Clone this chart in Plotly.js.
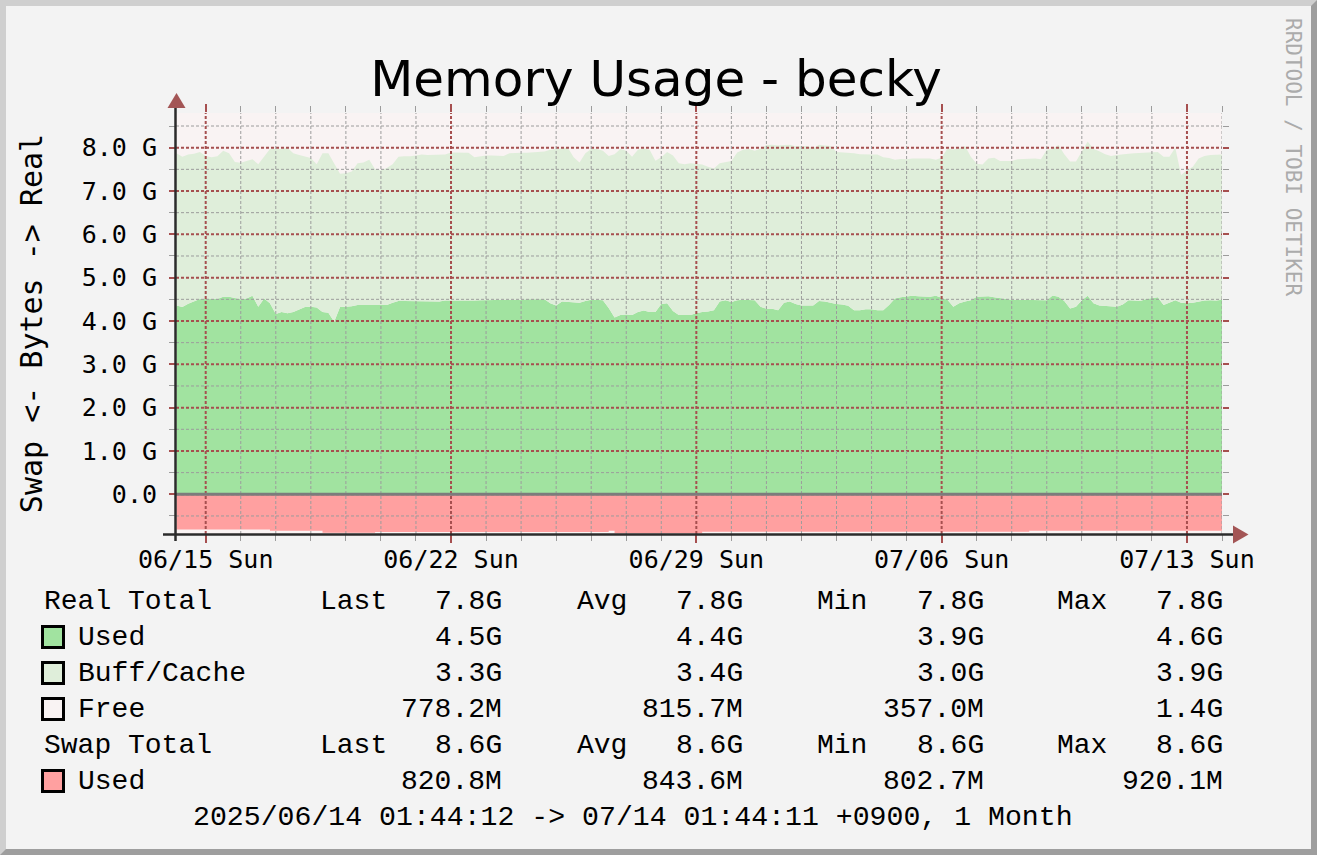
<!DOCTYPE html>
<html><head><meta charset="utf-8">
<script src="https://cdn.plot.ly/plotly-3.0.1.min.js"></script>
<style>
html,body{margin:0;padding:0;background:#F3F3F3;}
#wrap{position:relative;width:1317px;height:855px;overflow:hidden;}
#chart{width:1317px;height:855px;}
#frame{position:absolute;left:0;top:0;width:1317px;height:855px;box-sizing:border-box;border-style:solid;border-width:6px;border-color:#CFCFCF #9E9E9E #9E9E9E #CFCFCF;pointer-events:none;}
</style>
</head><body>
<div id="wrap"><div id="chart"></div><div id="frame"></div></div>
<script>
// ---- data (GB), one sample every 4 hours starting 2025-06-14 04:00 ----
const sampleStartUTC = [2025, 5, 14, 4, 0];
const sampleStepHours = 4;
const usedGB = [
4.36,4.32,4.40,4.45,4.51,4.52,4.51,4.51,4.56,4.56,
4.53,4.50,4.52,4.58,4.33,4.52,4.41,4.16,4.21,4.18,
4.21,4.27,4.32,4.33,4.31,4.21,4.19,3.98,4.32,4.33,
4.34,4.37,4.37,4.37,4.36,4.36,4.37,4.42,4.46,4.46,
4.46,4.46,4.45,4.45,4.45,4.45,4.47,4.47,4.47,4.47,
4.46,4.47,4.48,4.48,4.49,4.49,4.49,4.49,4.49,4.49,
4.50,4.50,4.50,4.50,4.41,4.36,4.45,4.44,4.42,4.42,
4.46,4.49,4.49,4.48,4.30,4.08,4.14,4.15,4.14,4.21,
4.24,4.21,4.21,4.39,4.41,4.23,4.14,4.14,4.14,4.18,
4.21,4.22,4.25,4.45,4.48,4.44,4.48,4.49,4.48,4.48,
4.33,4.28,4.28,4.25,4.42,4.45,4.39,4.36,4.36,4.36,
4.46,4.45,4.42,4.39,4.38,4.35,4.25,4.25,4.27,4.27,
4.25,4.25,4.37,4.52,4.55,4.56,4.58,4.57,4.56,4.56,
4.58,4.53,4.49,4.33,4.41,4.45,4.48,4.56,4.56,4.57,
4.55,4.53,4.52,4.49,4.49,4.49,4.49,4.49,4.49,4.48,
4.59,4.56,4.46,4.29,4.33,4.48,4.58,4.41,4.36,4.35,
4.35,4.33,4.38,4.48,4.47,4.46,4.51,4.53,4.55,4.37,
4.42,4.48,4.42,4.41,4.42,4.45,4.47,4.48,4.47,4.49];
const buffCacheGB = [
3.51,3.47,3.44,3.41,3.39,3.29,3.27,3.29,3.37,3.31,
3.14,3.15,3.17,3.15,3.29,3.27,3.56,3.81,3.76,3.82,
3.66,3.56,3.48,3.43,3.31,3.66,3.68,3.66,3.08,3.08,
3.11,3.27,3.29,3.35,3.14,3.12,3.16,3.20,3.33,3.34,
3.34,3.36,3.39,3.38,3.38,3.39,3.37,3.42,3.42,3.42,
3.42,3.31,3.32,3.34,3.33,3.32,3.32,3.38,3.39,3.39,
3.38,3.39,3.41,3.41,3.54,3.61,3.53,3.56,3.36,3.24,
3.41,3.48,3.48,3.45,3.51,3.77,3.83,3.78,3.65,3.74,
3.74,3.74,3.49,3.39,3.49,3.59,3.50,3.48,3.50,3.45,
3.40,3.34,3.27,3.19,3.18,3.25,3.41,3.46,3.49,3.45,
3.65,3.78,3.79,3.80,3.64,3.62,3.64,3.68,3.68,3.62,
3.61,3.60,3.62,3.51,3.51,3.54,3.62,3.60,3.57,3.57,
3.59,3.53,3.39,3.20,3.19,3.17,3.17,3.18,3.19,3.19,
3.14,3.24,3.49,3.63,3.57,3.59,3.31,3.07,3.05,3.18,
3.22,3.16,3.17,3.20,3.24,3.25,3.26,3.26,3.24,3.47,
3.38,3.50,3.39,3.39,3.35,3.43,3.56,3.56,3.56,3.50,
3.46,3.50,3.47,3.38,3.40,3.42,3.37,3.36,3.35,3.42,
3.37,3.52,2.95,3.07,3.14,3.30,3.34,3.35,3.37,3.35];
const swapUsedGB = [
0.81,0.81,0.81,0.81,0.81,0.81,0.81,0.81,0.81,0.81,
0.81,0.81,0.81,0.81,0.81,0.81,0.84,0.84,0.84,0.84,
0.84,0.84,0.84,0.84,0.84,0.885,0.885,0.885,0.885,0.885,
0.885,0.885,0.885,0.885,0.87,0.87,0.87,0.87,0.87,0.87,
0.87,0.87,0.87,0.87,0.87,0.87,0.87,0.87,0.87,0.87,
0.87,0.87,0.87,0.87,0.87,0.87,0.87,0.87,0.87,0.87,
0.87,0.87,0.87,0.87,0.87,0.87,0.87,0.87,0.87,0.87,
0.87,0.87,0.87,0.87,0.84,0.90,0.90,0.90,0.90,0.90,
0.90,0.90,0.90,0.90,0.90,0.90,0.90,0.90,0.90,0.90,
0.865,0.865,0.865,0.865,0.865,0.865,0.865,0.865,0.865,0.865,
0.865,0.865,0.865,0.865,0.865,0.865,0.865,0.865,0.865,0.865,
0.865,0.865,0.865,0.865,0.865,0.865,0.865,0.865,0.865,0.865,
0.865,0.865,0.865,0.865,0.865,0.865,0.865,0.865,0.865,0.865,
0.865,0.865,0.865,0.865,0.865,0.865,0.865,0.865,0.865,0.865,
0.865,0.865,0.865,0.865,0.865,0.865,0.84,0.84,0.84,0.84,
0.84,0.84,0.84,0.84,0.84,0.84,0.84,0.84,0.84,0.84,
0.84,0.84,0.84,0.84,0.84,0.84,0.84,0.84,0.84,0.84,
0.84,0.84,0.84,0.84,0.84,0.84,0.84,0.84,0.84,0.84];

const weekTickDates = ['2025-06-15','2025-06-22','2025-06-29','2025-07-06','2025-07-13'];
const weekTickLabels = ['06/15 Sun','06/22 Sun','06/29 Sun','07/06 Sun','07/13 Sun'];
const yTickValues = [0,1,2,3,4,5,6,7,8];
const yTickLabels = ['0.0','1.0 G','2.0 G','3.0 G','4.0 G','5.0 G','6.0 G','7.0 G','8.0 G'];

const legendGroups = ['Real Total','Swap Total'];
const realTotalStats = ['7.8G','7.8G','7.8G','7.8G'];
const swapTotalStats = ['8.6G','8.6G','8.6G','8.6G'];
const statNames = ['Last','Avg','Min','Max'];
const seriesNames = ['Used','Buff/Cache','Free','Used'];
const usedStats = ['4.5G','4.4G','3.9G','4.6G'];
const buffStats = ['3.3G','3.4G','3.0G','3.9G'];
const freeStats = ['778.2M','815.7M','357.0M','1.4G'];
const swapUsedStats = ['820.8M','843.6M','802.7M','920.1M'];
const periodText = '2025/06/14 01:44:12 -> 07/14 01:44:11 +0900, 1 Month';

// ---- styles ----
const C_USED = '#A1E3A0', C_BUFF = '#DFEEDA', C_FREE = '#F9F3F3', C_SWAP = '#FFA0A0';
const C_BG = '#F3F3F3', C_MGRID = '#A64F4F', C_GRID = '#9C9C9C', C_ARROW = '#A35555';
const MONO = 'DejaVu Sans Mono', LEG = 'Liberation Mono';

// pixel geometry of the plot area
const L = 176, R = 1222, T = 113, B = 534;
const PW = R - L, PH = B - T;
const px = X => (X - L) / PW;
const py = Y => (B - Y) / PH;

const t0 = Date.UTC(...sampleStartUTC);
const times = usedGB.map((_, i) => t0 + i * sampleStepHours * 3600000);

const traces = [
  {x: times, y: usedGB, type: 'scatter', mode: 'lines', stackgroup: 'real', name: 'Used',
   line: {width: 0}, fillcolor: C_USED, hoverinfo: 'skip'},
  {x: times, y: buffCacheGB, type: 'scatter', mode: 'lines', stackgroup: 'real', name: 'Buff/Cache',
   line: {width: 0}, fillcolor: C_BUFF, hoverinfo: 'skip'},
  {x: times, y: swapUsedGB.map(v => -v), type: 'scatter', mode: 'lines', fill: 'tozeroy', name: 'Swap Used',
   line: {width: 0, shape: 'hv'}, fillcolor: C_SWAP, hoverinfo: 'skip'}
];

const shapes = [];
// horizontal grid
for (let k = -1; k <= 17; k++) {
  const v = k / 2, major = (k % 2 === 0);
  shapes.push({type: 'line', layer: 'above', xref: 'paper', yref: 'y', x0: 0, x1: 1, y0: v, y1: v,
    line: {color: major ? C_MGRID : C_GRID, width: major ? 2 : 1, dash: '3px,2px'}});
}
// vertical grid (daily, red on Sundays)
for (let d = 0; d <= 29; d++) {
  const t = Date.UTC(2025, 5, 15 + d);
  const major = (d % 7 === 0);
  shapes.push({type: 'line', layer: 'above', xref: 'x', yref: 'paper', x0: t, x1: t, y0: 0, y1: 1,
    line: {color: major ? C_MGRID : C_GRID, width: major ? 2 : 1, dash: '3px,2px'}});
}
// zero line
shapes.push({type: 'line', layer: 'above', xref: 'paper', yref: 'y', x0: 0, x1: 1, y0: 0, y1: 0,
  line: {color: '#7C7C7C', width: 3}});
// axes lines
shapes.push({type: 'line', layer: 'above', xref: 'paper', yref: 'paper', x0: px(175.5), x1: px(175.5), y0: py(108), y1: py(541),
  line: {color: '#2B2B2B', width: 2.5}});
shapes.push({type: 'line', layer: 'above', xref: 'paper', yref: 'paper', x0: px(163), x1: px(1234), y0: py(534.5), y1: py(534.5),
  line: {color: '#2B2B2B', width: 2.5}});
// arrows
shapes.push({type: 'path', layer: 'above', xref: 'paper', yref: 'paper',
  path: `M ${px(176.5)} ${py(93)} L ${px(167.5)} ${py(108)} L ${px(185.5)} ${py(108)} Z`,
  fillcolor: C_ARROW, line: {width: 0}});
shapes.push({type: 'path', layer: 'above', xref: 'paper', yref: 'paper',
  path: `M ${px(1248.5)} ${py(534.5)} L ${px(1233)} ${py(525.5)} L ${px(1233)} ${py(543.5)} Z`,
  fillcolor: C_ARROW, line: {width: 0}});

// legend
const rowY = [601, 637, 673, 709, 745, 781, 817];
const statLabelX = [318, 575, 815, 1055];
const statValueX = [504, 745, 986, 1225];
const annotations = [];
const ann = (text, X, Y, anchor, extra) => annotations.push(Object.assign({
  text: text, xref: 'paper', yref: 'paper', x: px(X), y: py(Y), xanchor: anchor, yanchor: 'middle',
  showarrow: false, font: {family: LEG, size: 28, color: '#000'}}, extra || {}));

const rows = [
  {group: legendGroups[0], stats: realTotalStats, y: rowY[0]},
  {name: seriesNames[0], color: C_USED, stats: usedStats, y: rowY[1]},
  {name: seriesNames[1], color: C_BUFF, stats: buffStats, y: rowY[2]},
  {name: seriesNames[2], color: C_FREE, stats: freeStats, y: rowY[3]},
  {group: legendGroups[1], stats: swapTotalStats, y: rowY[4]},
  {name: seriesNames[3], color: C_SWAP, stats: swapUsedStats, y: rowY[5]}
];
rows.forEach(r => {
  if (r.group) {
    ann(r.group, 42, r.y, 'left');
    statNames.forEach((s, j) => ann(s, statLabelX[j], r.y, 'left'));
  } else {
    shapes.push({type: 'rect', layer: 'above', xref: 'paper', yref: 'paper',
      x0: px(42.5), x1: px(63.5), y0: py(r.y - 10.5), y1: py(r.y + 10.5),
      fillcolor: r.color, line: {color: '#000', width: 3}});
    ann(r.name, 76, r.y, 'left');
  }
  r.stats.forEach((v, j) => ann(v, statValueX[j], r.y, 'right'));
});
ann(periodText, 633, rowY[6], 'center', {font: {family: LEG, size: 28.2, color: '#000'}});
// watermark
annotations.push({text: 'RRDTOOL / TOBI OETIKER', xref: 'paper', yref: 'paper', x: px(1293), y: py(157),
  xanchor: 'center', yanchor: 'middle', textangle: 90, showarrow: false,
  font: {family: MONO, size: 21, color: '#ABABAB'}});

const layout = {
  width: 1317, height: 855,
  margin: {l: L, r: 1317 - R, t: T, b: 855 - B, pad: 0},
  paper_bgcolor: C_BG, plot_bgcolor: C_FREE,
  showlegend: false,
  title: {text: 'Memory Usage - becky', font: {family: 'DejaVu Sans', size: 50, color: '#000'},
    xref: 'container', yref: 'container', x: 656 / 1317, y: 1 - 78 / 855, xanchor: 'center', yanchor: 'middle'},
  xaxis: {type: 'date', range: ['2025-06-14 03:39:36', '2025-07-14 00:00'], fixedrange: true,
    tickmode: 'array', tickvals: weekTickDates, ticktext: weekTickLabels,
    ticks: 'outside', ticklen: 8, tickwidth: 2, tickcolor: C_MGRID, mirror: 'ticks',
    showgrid: false, zeroline: false, showline: false, ticklabelstandoff: -5,
    tickfont: {family: MONO, size: 25, color: '#000'},
    minor: {ticks: 'outside', ticklen: 6, tickwidth: 1, tickcolor: C_GRID, dtick: 86400000, tick0: '2025-06-15', showgrid: false}},
  yaxis: {range: [-0.916, 8.80], fixedrange: true,
    tickmode: 'array', tickvals: yTickValues, ticktext: yTickLabels,
    ticks: 'outside', ticklen: 6, tickwidth: 2, tickcolor: C_MGRID, mirror: 'ticks',
    showgrid: false, zeroline: false, showline: false, ticklabelstandoff: 7,
    tickfont: {family: MONO, size: 25, color: '#000'},
    minor: {ticks: 'outside', ticklen: 6, tickwidth: 1, tickcolor: C_GRID, dtick: 0.5, tick0: 0, showgrid: false},
    title: {text: 'Swap <- Bytes -> Real', font: {family: MONO, size: 30, color: '#000'}, standoff: 30}},
  shapes: shapes,
  annotations: annotations
};

Plotly.newPlot('chart', traces, layout, {staticPlot: true, displayModeBar: false});
</script>
</body></html>
